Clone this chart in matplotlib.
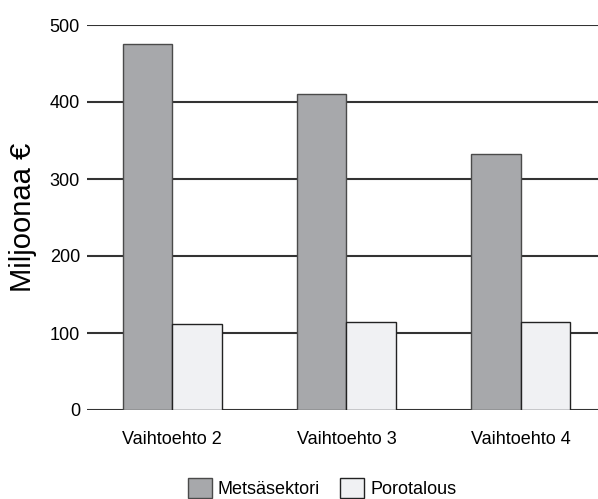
import matplotlib
matplotlib.use("Agg")
import matplotlib.pyplot as plt
import numpy as np

categories = ["Vaihtoehto 2", "Vaihtoehto 3", "Vaihtoehto 4"]
metsasektori = [475, 410, 332]
porotalous = [112, 114, 114]
series_names = ["Metsäsektori", "Porotalous"]
yticks = [0, 100, 200, 300, 400, 500]

plt.rcParams['font.family'] = ['Liberation Sans', 'DejaVu Sans']

fig = plt.figure(figsize=(5.98, 4.99), dpi=100)
ax = fig.add_axes([87/598, 1-410/499, 1-87/598, (410-25)/499])

x = np.arange(len(categories))
w = 0.285
ax.set_axisbelow(True)
for yv in yticks:
    ax.axhline(yv, color='#333333', lw=1.5, zorder=0)
ax.bar(x - w/2, metsasektori, w, color='#a7a8ab', edgecolor='#4a4a4a', lw=1.0, label=series_names[0], zorder=2)
ax.bar(x + w/2, porotalous, w, color='#f0f1f3', edgecolor='#222222', lw=1.0, label=series_names[1], zorder=2)

ax.set_xlim(-0.49, 2.445)
ax.set_ylim(0, 500)
ax.set_yticks(yticks)
ax.set_xticks(x)
ax.set_xticklabels(categories, fontsize=13)
ax.tick_params(axis='x', length=0, pad=15)
ax.tick_params(axis='y', length=0, pad=5, labelsize=13)
for s in ax.spines.values():
    s.set_visible(False)
ax.set_ylabel("Miljoonaa €", fontsize=21, va='center')
ax.yaxis.set_label_coords((23-87)/511, 0.5)

fig.legend(loc='center', bbox_to_anchor=(322/598, 1-488/499), ncol=2, frameon=False,
           fontsize=13, handlelength=1.33, handleheight=1.33, columnspacing=1.1, handletextpad=0.35,
           borderpad=0)

fig.savefig("out.png", dpi=100)
